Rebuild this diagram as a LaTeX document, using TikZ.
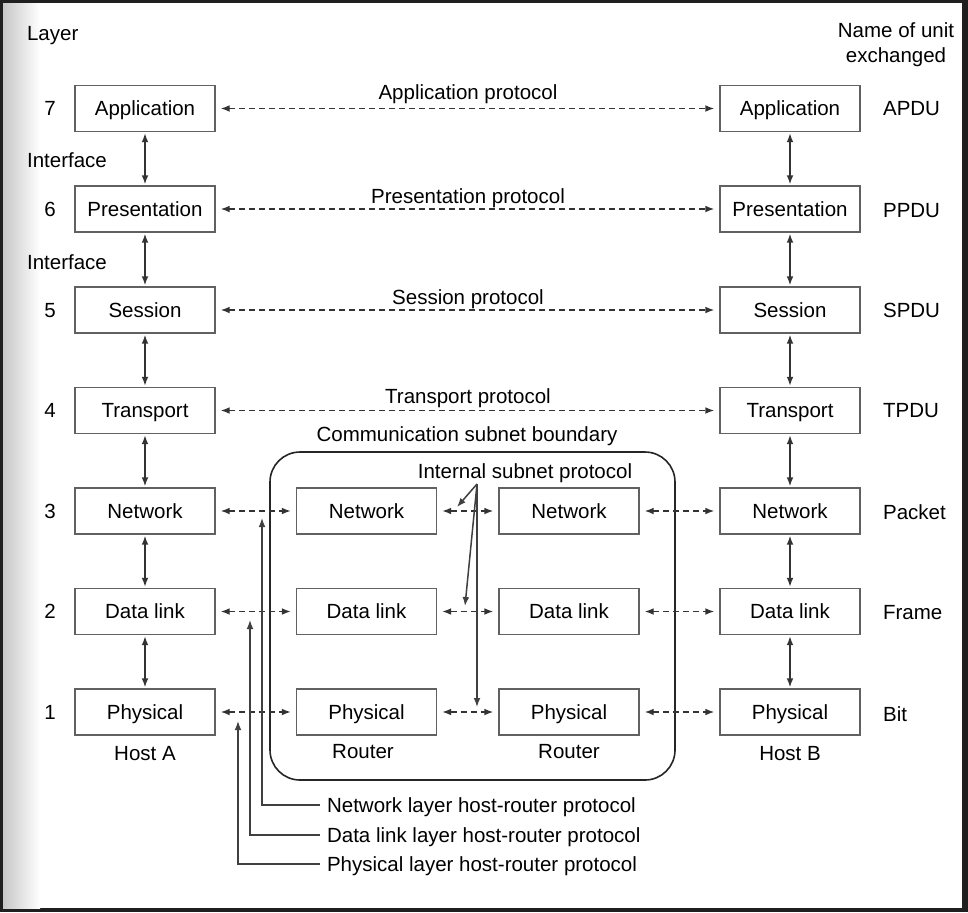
\documentclass[tikz,border=0pt]{standalone}
\usepackage{fontspec}
\setmainfont{Liberation Sans}
\usetikzlibrary{arrows.meta}

\tikzset{
  every node/.style={font=\fontsize{10.25}{12.5}\selectfont},
  caps/.style={text height=7.3pt, text depth=0pt},
  layerbox/.style={caps, draw=black!62, line width=0.7pt, minimum width=70pt,
    minimum height=23pt, inner sep=0pt},
  peer/.style={draw=black!80, line width=0.7pt, dash pattern=on 3pt off 2pt,
    {Latex[length=4.5pt,width=3.4pt]}-{Latex[length=4.5pt,width=3.4pt]},
    shorten <=2.5pt, shorten >=2.5pt},
  iface/.style={draw=black!80, line width=0.75pt,
    {Latex[length=4.5pt,width=3.4pt]}-{Latex[length=4.5pt,width=3.4pt]},
    shorten <=0.5pt, shorten >=0.5pt},
  pointer/.style={draw=black!75, line width=0.75pt, -{Latex[length=4.5pt,width=3.4pt]}},
}

\begin{document}
\begin{tikzpicture}[x=0.5pt,y=-0.5pt]
% Frame of the page
\fill[black!88] (0,0) rectangle (968,912);
\fill[white] (3,3) rectangle (962,908);
\shade[left color=black!22, right color=white] (3,3) rectangle (40,908);
\useasboundingbox (0,0) rectangle (968,912);

% Headings
\node[caps, anchor=west] (layer) at (20,33) {Layer};
\node[align=center] (unit) at (896,45) {Name of unit\\exchanged};
\node[caps, anchor=west] (ifaceA) at (20,160) {Interface};
\node[caps, anchor=west] (ifaceB) at (20,262) {Interface};

% Layer numbers
\node[caps] (n7) at (50,108) {7};
\node[caps] (n6) at (50,209) {6};
\node[caps] (n5) at (50,310) {5};
\node[caps] (n4) at (50,410) {4};
\node[caps] (n3) at (50,511) {3};
\node[caps] (n2) at (50,611) {2};
\node[caps] (n1) at (50,712) {1};

% Host A stack
\node[layerbox] (appA) at (145,108.5) {Application};
\node[layerbox] (presA) at (145,209) {Presentation};
\node[layerbox] (sessA) at (145,310) {Session};
\node[layerbox] (transA) at (145,410.5) {Transport};
\node[layerbox] (netA) at (145,511) {Network};
\node[layerbox] (dlA) at (145,611.5) {Data link};
\node[layerbox] (phyA) at (145,712) {Physical};
\node[caps] (hostA) at (145,753) {Host A};

% Host B stack
\node[layerbox] (appB) at (790,108.5) {Application};
\node[layerbox] (presB) at (790,209) {Presentation};
\node[layerbox] (sessB) at (790,310) {Session};
\node[layerbox] (transB) at (790,410.5) {Transport};
\node[layerbox] (netB) at (790,511) {Network};
\node[layerbox] (dlB) at (790,611.5) {Data link};
\node[layerbox] (phyB) at (790,712) {Physical};
\node[caps] (hostB) at (790,753) {Host B};

% Routers inside the subnet
\draw[black!85, line width=0.8pt, rounded corners=15pt] (270,452) rectangle (675,780);
\node[layerbox] (netR) at (366.5,511) {Network};
\node[layerbox] (dlR) at (366.5,611.5) {Data link};
\node[layerbox] (phyR) at (366.5,712) {Physical};
\node[caps] (routerR) at (363,751) {Router};
\node[layerbox] (netS) at (569,511) {Network};
\node[layerbox] (dlS) at (569,611.5) {Data link};
\node[layerbox] (phyS) at (569,712) {Physical};
\node[caps] (routerS) at (569,751) {Router};

% Units exchanged
\node[caps, anchor=west] (apdu) at (876,108) {APDU};
\node[caps, anchor=west] (ppdu) at (876,210) {PPDU};
\node[caps, anchor=west] (spdu) at (876,310) {SPDU};
\node[caps, anchor=west] (tpdu) at (876,410) {TPDU};
\node[caps, anchor=west] (packet) at (876,512) {Packet};
\node[caps, anchor=west] (frame) at (876,612) {Frame};
\node[caps, anchor=west] (bit) at (876,714) {Bit};

% Interfaces between layers
\draw[iface] (appA) -- (presA);
\draw[iface] (presA) -- (sessA);
\draw[iface] (sessA) -- (transA);
\draw[iface] (transA) -- (netA);
\draw[iface] (netA) -- (dlA);
\draw[iface] (dlA) -- (phyA);
\draw[iface] (appB) -- (presB);
\draw[iface] (presB) -- (sessB);
\draw[iface] (sessB) -- (transB);
\draw[iface] (transB) -- (netB);
\draw[iface] (netB) -- (dlB);
\draw[iface] (dlB) -- (phyB);

% End to end protocols
\draw[peer] (appA) -- (appB);
\draw[peer] (presA) -- (presB);
\draw[peer] (sessA) -- (sessB);
\draw[peer] (transA) -- (transB);
\node[caps] (appP) at (468,92) {Application protocol};
\node[caps] (presP) at (468,196) {Presentation protocol};
\node[caps] (sessP) at (468,297) {Session protocol};
\node[caps] (transP) at (468,396) {Transport protocol};
\node[caps] (boundary) at (467,434) {Communication subnet boundary};

% Hop by hop protocols
\draw[peer] (netA) -- (netR);
\draw[peer] (netR) -- (netS);
\draw[peer] (netS) -- (netB);
\draw[peer] (dlA) -- (dlR);
\draw[peer] (dlR) -- (dlS);
\draw[peer] (dlS) -- (dlB);
\draw[peer] (phyA) -- (phyR);
\draw[peer] (phyR) -- (phyS);
\draw[peer] (phyS) -- (phyB);

% Internal subnet protocol pointers
\node[caps] (intP) at (525,471) {Internal subnet protocol};
\coordinate (isp) at (477,484);
\coordinate (ispN) at (457,507);
\coordinate (ispD) at (465,606);
\coordinate (ispP) at (477,707);
\draw[pointer] (isp) -- (ispN);
\draw[pointer] (isp) -- (ispD);
\draw[pointer] (isp) -- (ispP);

% Host-router protocol pointers
\node[caps, anchor=west] (netHR) at (320,805) {Network layer host-router protocol};
\node[caps, anchor=west] (dlHR) at (320,835) {Data link layer host-router protocol};
\node[caps, anchor=west] (phyHR) at (320,864) {Physical layer host-router protocol};
\coordinate (netTip) at (262,518);
\coordinate (dlTip) at (250,620);
\coordinate (phyTip) at (238,721);
\draw[pointer] (netHR.west) -| (netTip);
\draw[pointer] (dlHR.west) -| (dlTip);
\draw[pointer] (phyHR.west) -| (phyTip);

\end{tikzpicture}
\end{document}
